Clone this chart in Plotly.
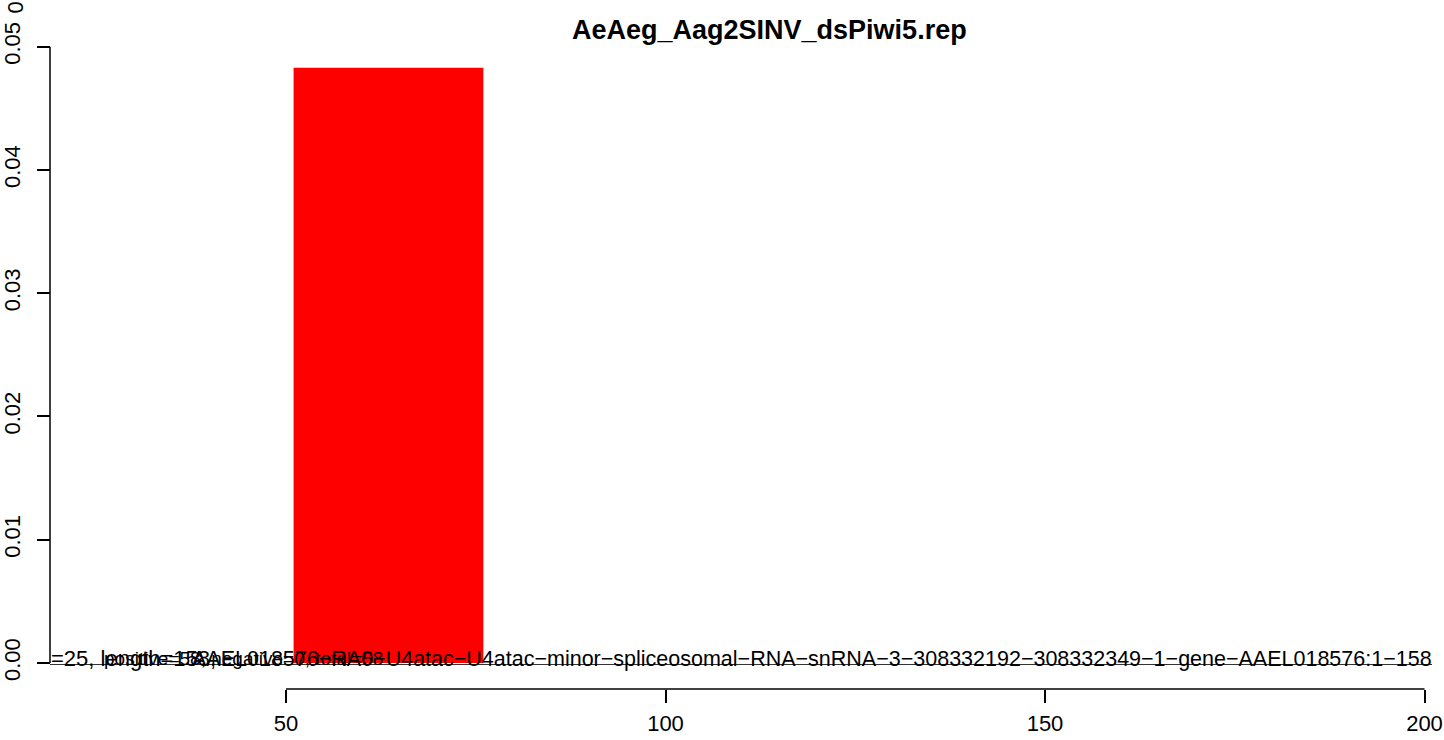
import plotly.graph_objects as go

# ---- data ----
title_text = "AeAeg_Aag2SINV_dsPiwi5.rep"
bar_start = [51]
bar_end = [76]
bar_height = [0.0483]
x_ticks = [50, 100, 150, 200]
y_ticks = [0.00, 0.01, 0.02, 0.03, 0.04, 0.05]
y_tick_labels = ["0.00", "0.01", "0.02", "0.03", "0.04", "0.05"]
label_a = "=25, length=158,"
label_b = "positive=58, negative=0, total=58"
label_c = "AAEL018576−RA0−U4atac−U4atac−minor−spliceosomal−RNA−snRNA−3−308332192−308332349−1−gene−AAEL018576:1−158"

W, H = 1444, 740
FONT = "Liberation Sans, Arial, Helvetica, sans-serif"

def px(x):
    return x / W

def py(y):
    return 1 - y / H

# pixel calibration of the axes
x50, x200 = 286.0, 1424.5
ux = (x200 - x50) / 150.0
x_lo = 50 - x50 / ux
x_hi = 200 + (W - x200) / ux
y0p, y5p = 663.0, 46.7
uy = (y0p - y5p) / 0.05
y_lo = -(H - y0p) / uy
y_hi = y0p / uy

centers = [(a + b) / 2 for a, b in zip(bar_start, bar_end)]
widths = [b - a for a, b in zip(bar_start, bar_end)]

fig = go.Figure()
fig.add_trace(go.Bar(x=centers, y=bar_height, width=widths,
                     marker=dict(color="#FF0000", line=dict(width=0)),
                     hoverinfo="skip", showlegend=False))

black = "#000000"
fig.update_layout(
    width=W, height=H, autosize=False,
    margin=dict(l=0, r=0, t=0, b=0),
    paper_bgcolor="white", plot_bgcolor="white",
    font=dict(family=FONT, size=22, color=black),
    showlegend=False,
    xaxis=dict(domain=[0, 1], range=[x_lo, x_hi], tickvals=x_ticks,
               ticktext=[str(v) for v in x_ticks],
               ticks="outside", ticklen=13, tickwidth=1.5, tickcolor=black,
               showline=False, showgrid=False, zeroline=False,
               anchor="free", position=(H - 689) / H, ticklabelstandoff=2,
               tickfont=dict(size=22, family=FONT, color=black), fixedrange=True),
    yaxis=dict(domain=[0, 1], range=[y_lo, y_hi], tickvals=y_ticks,
               ticktext=y_tick_labels, tickangle=-90,
               ticks="outside", ticklen=13, tickwidth=1.5, tickcolor=black,
               showline=False, showgrid=False, zeroline=False,
               anchor="free", position=50 / W, ticklabelstandoff=8,
               tickfont=dict(size=22, family=FONT, color=black), fixedrange=True),
)

shapes = [
    dict(type="line", xref="paper", yref="y", x0=px(50), x1=px(50), y0=y_ticks[0], y1=y_ticks[-1],
         line=dict(color=black, width=1.5)),
    dict(type="line", xref="x", yref="paper", x0=x_ticks[0], x1=x_ticks[-1], y0=py(689), y1=py(689),
         line=dict(color=black, width=1.5)),
    dict(type="line", xref="paper", yref="paper", x0=px(50), x1=px(1432), y0=py(664.5), y1=py(664.5),
         line=dict(color="#333333", width=1)),
]
fig.update_layout(shapes=shapes)

ann = []
ann.append(dict(text="<b>" + title_text + "</b>", xref="paper", yref="paper", x=px(769), y=py(30),
                xanchor="center", yanchor="middle", showarrow=False,
                font=dict(size=27, family=FONT, color=black)))
for t, xx, anc, sz in [(label_a, 49, "left", 22), (label_b, 102, "left", 19), (label_c, 1434, "right", 21.5)]:
    ann.append(dict(text=t, xref="paper", yref="paper", x=px(xx), y=py(658.5),
                    xanchor=anc, yanchor="middle", showarrow=False,
                    font=dict(size=sz, family=FONT, color=black)))
ann.append(dict(text="0.06", xref="paper", yref="paper", x=px(14.5), y=py(-8),
                xanchor="center", yanchor="middle", textangle=-90, showarrow=False,
                font=dict(size=22, family=FONT, color=black)))
fig.update_layout(annotations=ann)

fig.write_html("out.html", config={"displayModeBar": False},
               post_script="document.body.style.margin='0px';document.body.style.padding='0px';")
